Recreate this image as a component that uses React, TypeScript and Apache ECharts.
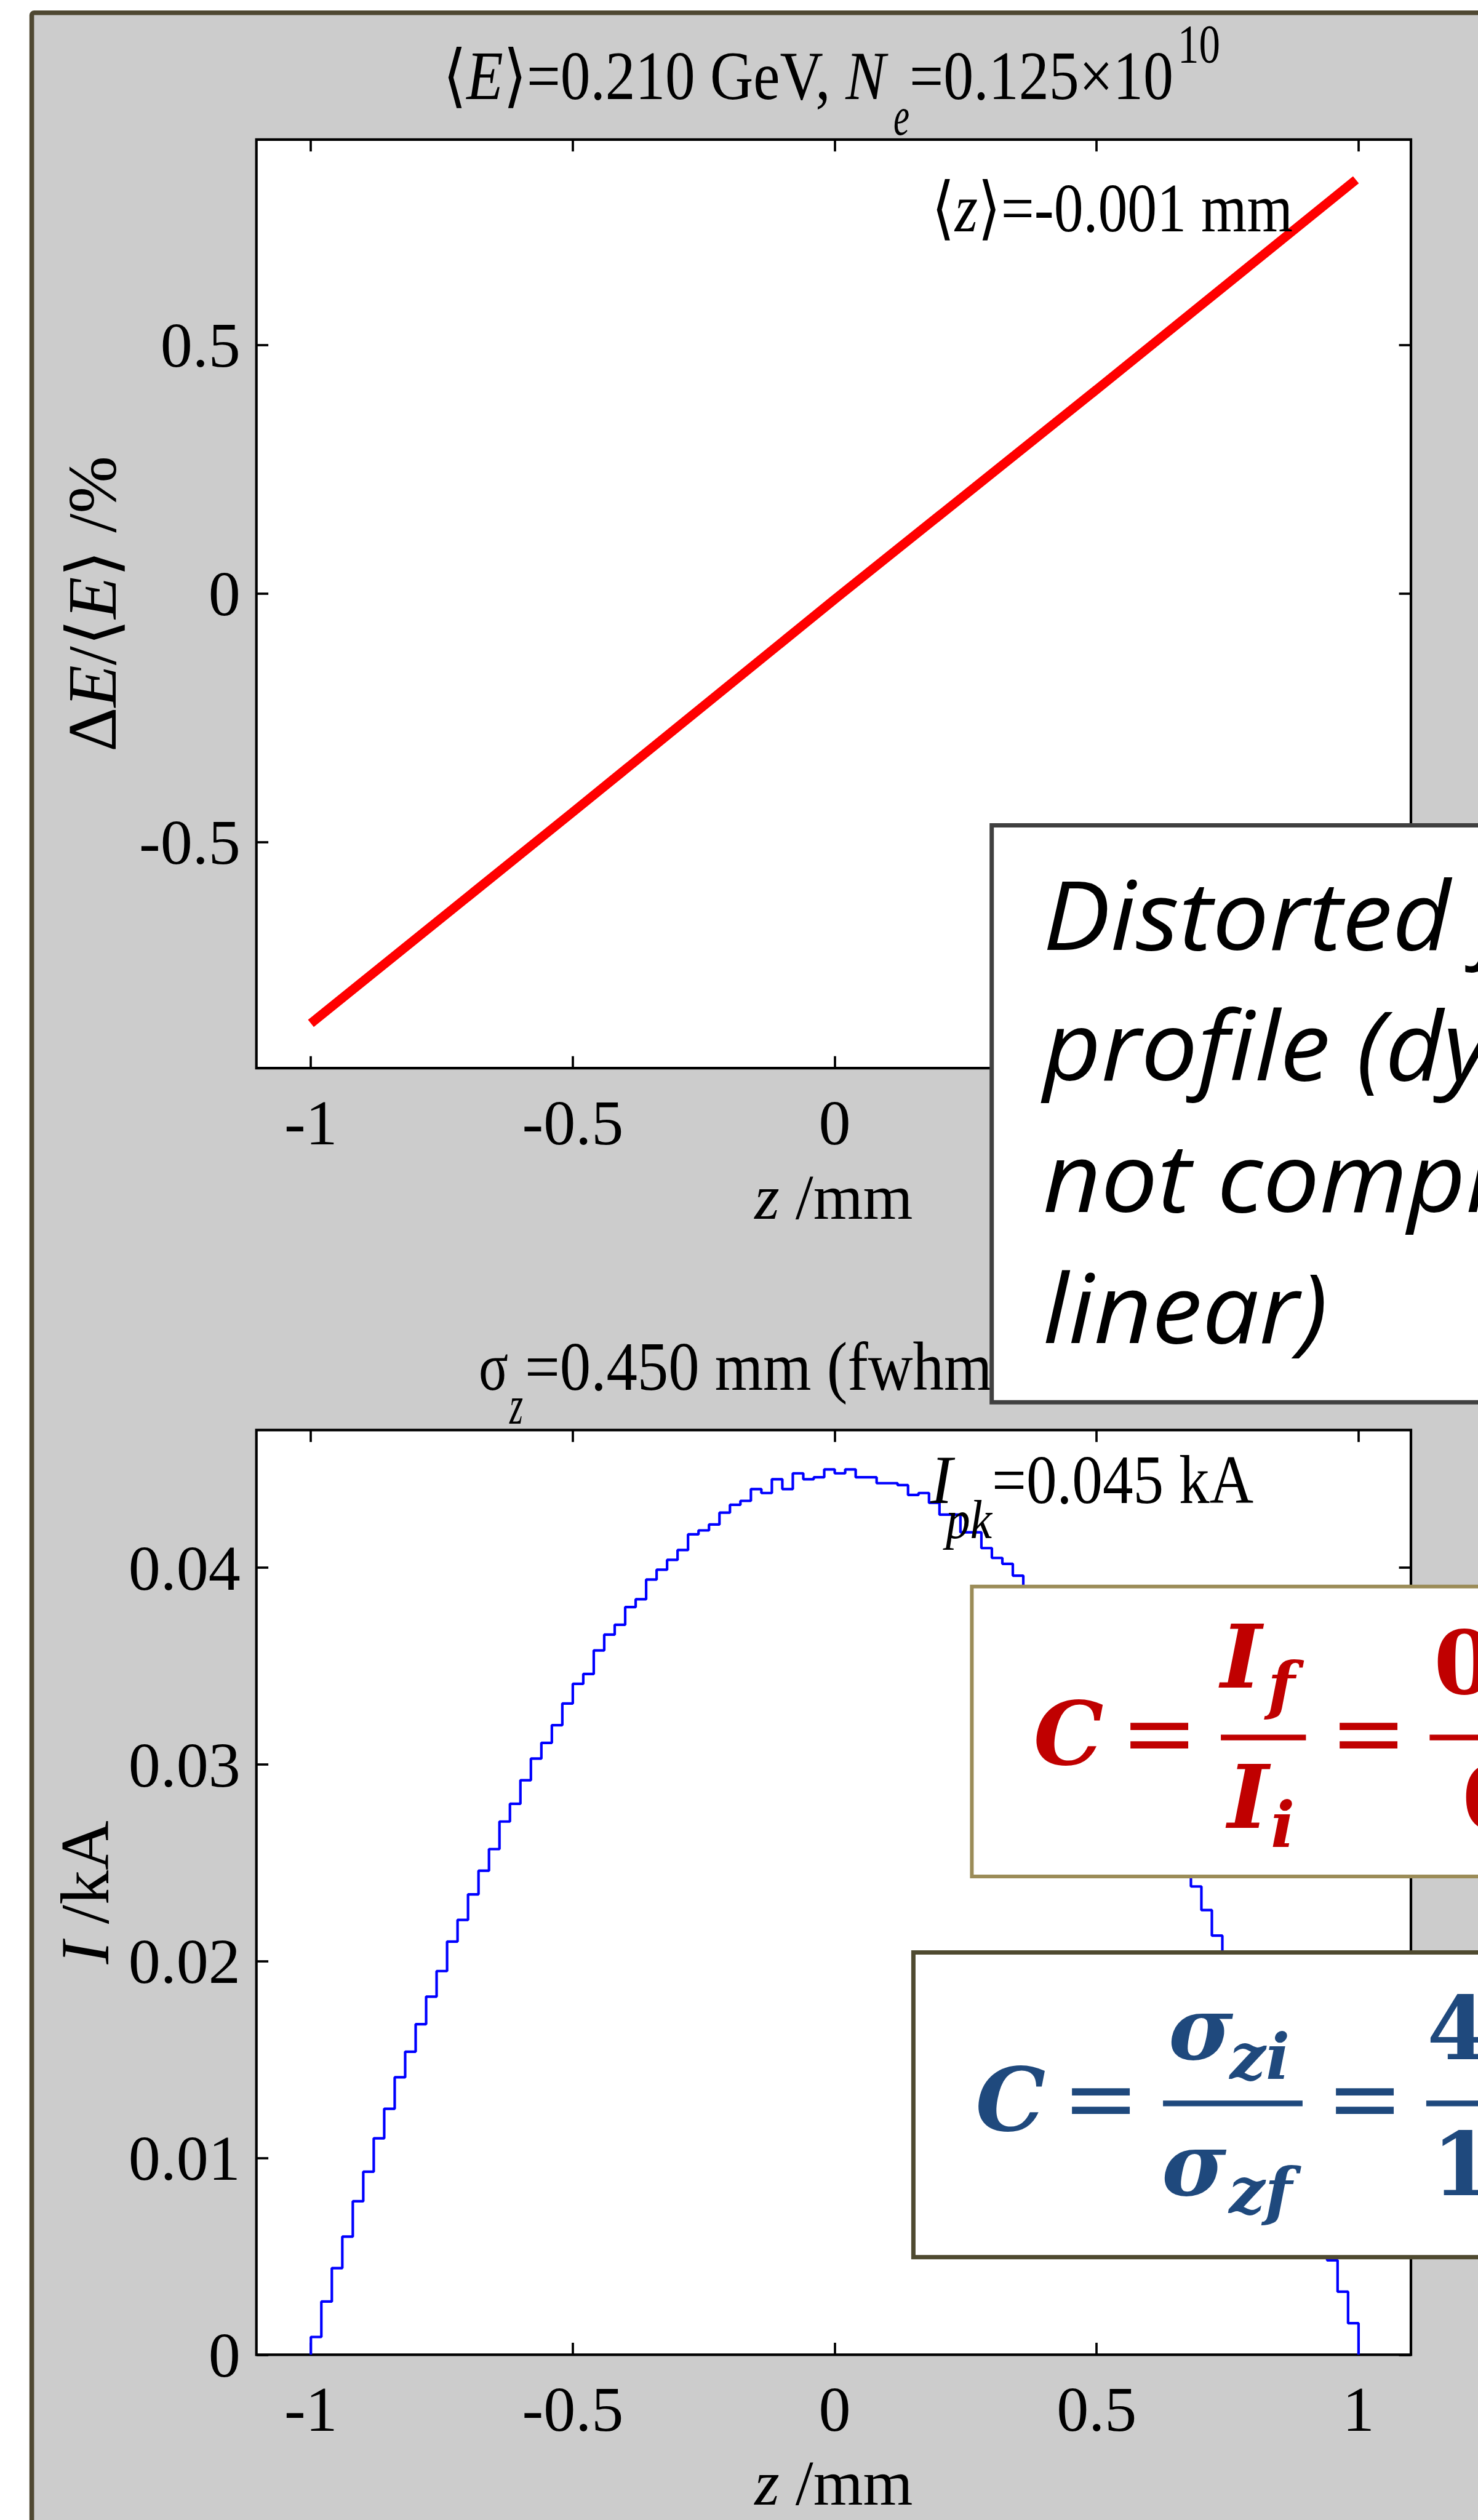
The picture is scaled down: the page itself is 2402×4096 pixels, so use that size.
import React, { useEffect, useRef } from "react";
import * as echarts from "echarts";

const CHART_W = 2402;
const CHART_H = 4096;

// Longitudinal phase space: centre line of the particle band (z in mm, dE/<E> in %)
const bandZ = [-1.0, -0.5, 0.0, 0.5, 0.995];
const bandDE = [-0.865, -0.44, -0.012, 0.41, 0.832];

// Current profile histogram (kA per 0.02 mm bin, starting at z = -1 mm)
const binStart = -1.0;
const binWidth = 0.02;
const currentKA = [
  0.0009, 0.0027, 0.0044, 0.006, 0.0078, 0.0093, 0.011, 0.0125, 0.0141, 0.0154,
  0.0168, 0.0182, 0.0195, 0.021, 0.0221, 0.0234, 0.0246, 0.0257, 0.0271, 0.028,
  0.0292, 0.0303, 0.0311, 0.032, 0.0331, 0.0341, 0.0346, 0.0358, 0.0366, 0.0371,
  0.038, 0.0384, 0.0394, 0.0399, 0.0404, 0.0409, 0.0417, 0.0419, 0.0422, 0.0428,
  0.0432, 0.0434, 0.044, 0.0438, 0.0445, 0.044, 0.0448, 0.0445, 0.0446, 0.045,
  0.0448, 0.045, 0.0446, 0.0446, 0.0443, 0.0443, 0.0442, 0.0437, 0.0438, 0.0433,
  0.0427, 0.0427, 0.0418, 0.0418, 0.041, 0.0405, 0.0402, 0.0396, 0.0389, 0.0381,
  0.0373, 0.0365, 0.0356, 0.0347, 0.0338, 0.0329, 0.0319, 0.0309, 0.0299, 0.0289,
  0.0279, 0.0268, 0.0257, 0.0247, 0.0238, 0.0226, 0.0213, 0.0199, 0.0185, 0.017,
  0.0155, 0.014, 0.0124, 0.0108, 0.0092, 0.0076, 0.0061, 0.0048, 0.0032, 0.0016,
];

const zTicks = [-1, -0.5, 0, 0.5, 1];
const deTicks = [-0.5, 0, 0.5];
const currentTicks = [0, 0.01, 0.02, 0.03, 0.04];

const SERIF = "'Liberation Serif', 'Times New Roman', serif";
const SANS = "'Open Sans', sans-serif";
const MATH = "'DejaVu Serif', serif";
// distance from the alphabetic baseline to the em-box centre, in em
const SERIF_C = 0.3375;
const SANS_C = 0.388;
const MATH_C = 0.346;

const RED = "#c00000";
const BLUE = "#1f497d";

type Run = { t: string; it?: boolean };
type Measure = (t: string, size: number, family: string, style?: string, weight?: string) => number;

function makeMeasure(): Measure {
  const ctx = document.createElement("canvas").getContext("2d")!;
  return (t, size, family, style = "normal", weight = "normal") => {
    ctx.font = `${style} ${weight} ${size}px ${family}`;
    return ctx.measureText(t).width;
  };
}

// serif label squeezed horizontally to span [x0, x1]
function fitted(m: Measure, runs: Run[], x0: number, x1: number, baseline: number, size: number, z = 20) {
  const natural = runs.reduce((s, r) => s + m(r.t, size, SERIF, r.it ? "italic" : "normal"), 0);
  const text = runs.map((r) => (r.it ? `{i|${r.t}}` : r.t)).join("");
  return {
    type: "text",
    z,
    x: x0,
    y: baseline - SERIF_C * size,
    scaleX: (x1 - x0) / natural,
    style: {
      text,
      fontFamily: SERIF,
      fontSize: size,
      fill: "#000",
      align: "left",
      verticalAlign: "middle",
      textAlign: "left",
      textVerticalAlign: "middle",
      rich: { i: { fontFamily: SERIF, fontSize: size, fontStyle: "italic", fill: "#000" } },
    },
  };
}

function mathText(
  t: string,
  x: number,
  baseline: number,
  size: number,
  fill: string,
  opts: { italic?: boolean; bold?: boolean; align?: string } = {}
) {
  const { italic = true, bold = true, align = "center" } = opts;
  return {
    type: "text",
    z: 60,
    x,
    y: baseline - MATH_C * size,
    style: {
      text: t,
      fontFamily: MATH,
      fontSize: size,
      fontStyle: italic ? "italic" : "normal",
      fontWeight: bold ? "bold" : "normal",
      fill,
      align,
      verticalAlign: "middle",
      textAlign: align,
      textVerticalAlign: "middle",
    },
  };
}

function bar(x: number, y: number, w: number, h: number, fill: string) {
  return { type: "rect", z: 60, shape: { x, y, width: w, height: h }, style: { fill } };
}

function box(x: number, y: number, h: number, stroke: string, lw: number) {
  return {
    type: "rect",
    z: 50,
    shape: { x, y, width: 1400, height: h },
    style: { fill: "#ffffff", stroke, lineWidth: lw },
  };
}

function sansLine(t: string, x: number, baseline: number) {
  const size = 156;
  return {
    type: "text",
    z: 60,
    x,
    y: baseline - SANS_C * size,
    scaleX: 1.05,
    style: {
      text: t,
      fontFamily: SANS,
      fontSize: size,
      fontStyle: "italic",
      fill: "#000",
      align: "left",
      verticalAlign: "middle",
      textAlign: "left",
      textVerticalAlign: "middle",
    },
  };
}

const tickStyle = { color: "#000", width: 3.7 };

function xAxes(gridIndex: number, nameGap: number) {
  const common = {
    gridIndex,
    type: "value",
    min: -1.104,
    max: 1.1,
    axisLine: { show: false, onZero: false },
    splitLine: { show: false },
    axisTick: { inside: true, length: 19.4, customValues: zTicks, lineStyle: tickStyle },
  };
  return [
    {
      ...common,
      position: "bottom",
      axisLabel: {
        customValues: zTicks,
        fontFamily: SERIF,
        fontSize: 104,
        color: "#000",
        margin: 88,
        verticalAlign: "middle",
      },
      name: "{i|z} /mm",
      nameLocation: "middle",
      nameGap,
      nameTextStyle: {
        fontFamily: SERIF,
        fontSize: 104,
        lineHeight: 84,
        color: "#000",
        verticalAlign: "middle",
        rich: { i: { fontFamily: SERIF, fontSize: 104, lineHeight: 84, fontStyle: "italic", color: "#000" } },
      },
    },
    { ...common, position: "top", axisLabel: { show: false } },
  ];
}

function yAxes(gridIndex: number, min: number, max: number, ticks: number[], name: string, nameGap: number) {
  const common = {
    gridIndex,
    type: "value",
    min,
    max,
    axisLine: { show: false, onZero: false },
    splitLine: { show: false },
    axisTick: { inside: true, length: 19.4, customValues: ticks, lineStyle: tickStyle },
  };
  return [
    {
      ...common,
      position: "left",
      axisLabel: { customValues: ticks, fontFamily: SERIF, fontSize: 104, color: "#000", margin: 26 },
      name,
      nameLocation: "middle",
      nameGap,
      nameRotate: 90,
      nameTextStyle: {
        fontFamily: SERIF,
        fontSize: 112,
        color: "#000",
        verticalAlign: "middle",
        rich: { i: { fontFamily: SERIF, fontSize: 112, fontStyle: "italic", color: "#000" } },
      },
    },
    { ...common, position: "right", axisLabel: { show: false } },
  ];
}

export default function App() {
  const ref = useRef<HTMLDivElement>(null);

  useEffect(() => {
    if (!ref.current) return;
    const chart = echarts.init(ref.current, null, { renderer: "svg", width: CHART_W, height: CHART_H });
    const m = makeMeasure();

    const bandData = bandZ.map((z, i) => [z, bandDE[i]]);
    const histData = [
      [binStart, 0],
      ...currentKA.map((v, i) => [binStart + (i + 1) * binWidth, v]),
      [binStart + currentKA.length * binWidth, 0],
    ];

    const graphic: any[] = [
      // grey figure panel with its dark frame
      {
        type: "rect",
        z: -10,
        shape: { x: 51.6, y: 20.7, width: 3000, height: 5000, r: 4 },
        style: { fill: "#cccccc", stroke: "#4f4832", lineWidth: 7.6 },
      },
      // top panel title
      fitted(m, [{ t: "⟨" }, { t: "E", it: true }, { t: "⟩=0.210 GeV, " }, { t: "N", it: true }], 720, 1439, 161.4, 111.6),
      fitted(m, [{ t: "e", it: true }], 1452, 1478, 218.5, 88),
      fitted(m, [{ t: "=0.125×10" }], 1478, 1907, 161.4, 111.6),
      fitted(m, [{ t: "10" }], 1914, 1983, 101.4, 88),
      // mean position
      fitted(m, [{ t: "⟨" }, { t: "z", it: true }, { t: "⟩=-0.001 mm" }], 1514, 2101, 375.3, 111.6),
      // bottom panel title
      fitted(m, [{ t: "σ" }], 778, 826, 2259, 111.6),
      fitted(m, [{ t: "z", it: true }], 828, 850, 2314, 88),
      fitted(m, [{ t: "=0.450 mm (fwhm" }], 853, 1612, 2259, 111.6),
      // peak current
      fitted(m, [{ t: "I", it: true }], 1512, 1548, 2443, 111.6, 30),
      fitted(m, [{ t: "pk", it: true }], 1537, 1612, 2500, 88, 30),
      fitted(m, [{ t: "=0.045 kA" }], 1612, 2037, 2443, 111.6, 30),

      // comment box
      box(1611.7, 1341.5, 937.7, "#404040", 7),
      sansLine("Distorted final", 1695, 1544),
      sansLine("profile (dynamics", 1695, 1756),
      sansLine("not completely", 1695, 1970),
      sansLine("linear)", 1695, 2183),

      // compression from peak currents
      box(1579.4, 2578.8, 471.2, "#9b8c58", 6),
      mathText("C", 1736.6, 2867.4, 143, RED),
      mathText("=", 1884, 2867.4, 150, RED, { italic: false, bold: false }),
      mathText("I", 2017.3, 2742.0, 143, RED),
      mathText("f", 2082.3, 2774, 103, RED),
      bar(1984.1, 2819.5, 138.3, 9.2, RED),
      mathText("I", 2028.4, 2970.7, 143, RED),
      mathText("i", 2084.6, 3001, 103, RED),
      mathText("=", 2224, 2867.4, 150, RED, { italic: false, bold: false }),
      bar(2323.4, 2819.5, 200, 9.2, RED),
      mathText("0.045", 2330, 2752.2, 143, RED, { italic: false, align: "left" }),
      mathText("0.015", 2376, 2972.5, 143, RED, { italic: false, align: "left" }),

      // compression from bunch lengths
      box(1484.4, 3173.4, 495.3, "#4f4a30", 7),
      mathText("C", 1642.5, 3462.1, 143, BLUE),
      mathText("=", 1789, 3462.1, 150, BLUE, { italic: false, bold: false }),
      mathText("σ", 1951.4, 3346.9, 143, BLUE),
      mathText("zi", 2047.3, 3378.2, 103, BLUE),
      bar(1890.1, 3414.2, 226.8, 9.2, BLUE),
      mathText("σ", 1940.4, 3567.2, 143, BLUE),
      mathText("zf", 2048.7, 3595.8, 103, BLUE),
      mathText("=", 2218, 3462.1, 150, BLUE, { italic: false, bold: false }),
      bar(2317.9, 3414.2, 200, 9.2, BLUE),
      mathText("450", 2319, 3346.9, 143, BLUE, { italic: false, align: "left" }),
      mathText("150", 2327, 3567.2, 143, BLUE, { italic: false, align: "left" }),
    ];

    const gridCommon = {
      show: true,
      backgroundColor: "#ffffff",
      borderColor: "#000000",
      borderWidth: 4.2,
      containLabel: false,
    };

    chart.setOption({
      animation: false,
      backgroundColor: "#ffffff",
      grid: [
        { ...gridCommon, left: 416.7, top: 226.8, width: 1876.3, height: 1509.3 },
        { ...gridCommon, left: 416.7, top: 2324.4, width: 1876.3, height: 1502.9 },
      ],
      xAxis: [...xAxes(0, 209), ...xAxes(1, 208)],
      yAxis: [
        ...yAxes(0, -0.955, 0.913, deTicks, "Δ{i|E}/⟨{i|E}⟩ /%", 267),
        ...yAxes(1, 0, 0.047, currentTicks, "{i|I} /kA", 279),
      ],
      series: [
        {
          type: "line",
          xAxisIndex: 0,
          yAxisIndex: 0,
          data: bandData,
          symbol: "none",
          silent: true,
          z: 3,
          lineStyle: { color: "#ff0000", width: 15 },
        },
        {
          type: "line",
          xAxisIndex: 2,
          yAxisIndex: 2,
          data: histData,
          step: "start",
          symbol: "none",
          silent: true,
          z: 3,
          lineStyle: { color: "#0000ff", width: 4.2 },
        },
      ],
      graphic,
    });

    return () => chart.dispose();
  }, []);

  return (
    <div
      ref={ref}
      style={{ position: "absolute", left: 0, top: 0, width: CHART_W, height: CHART_H, overflow: "hidden" }}
    />
  );
}
